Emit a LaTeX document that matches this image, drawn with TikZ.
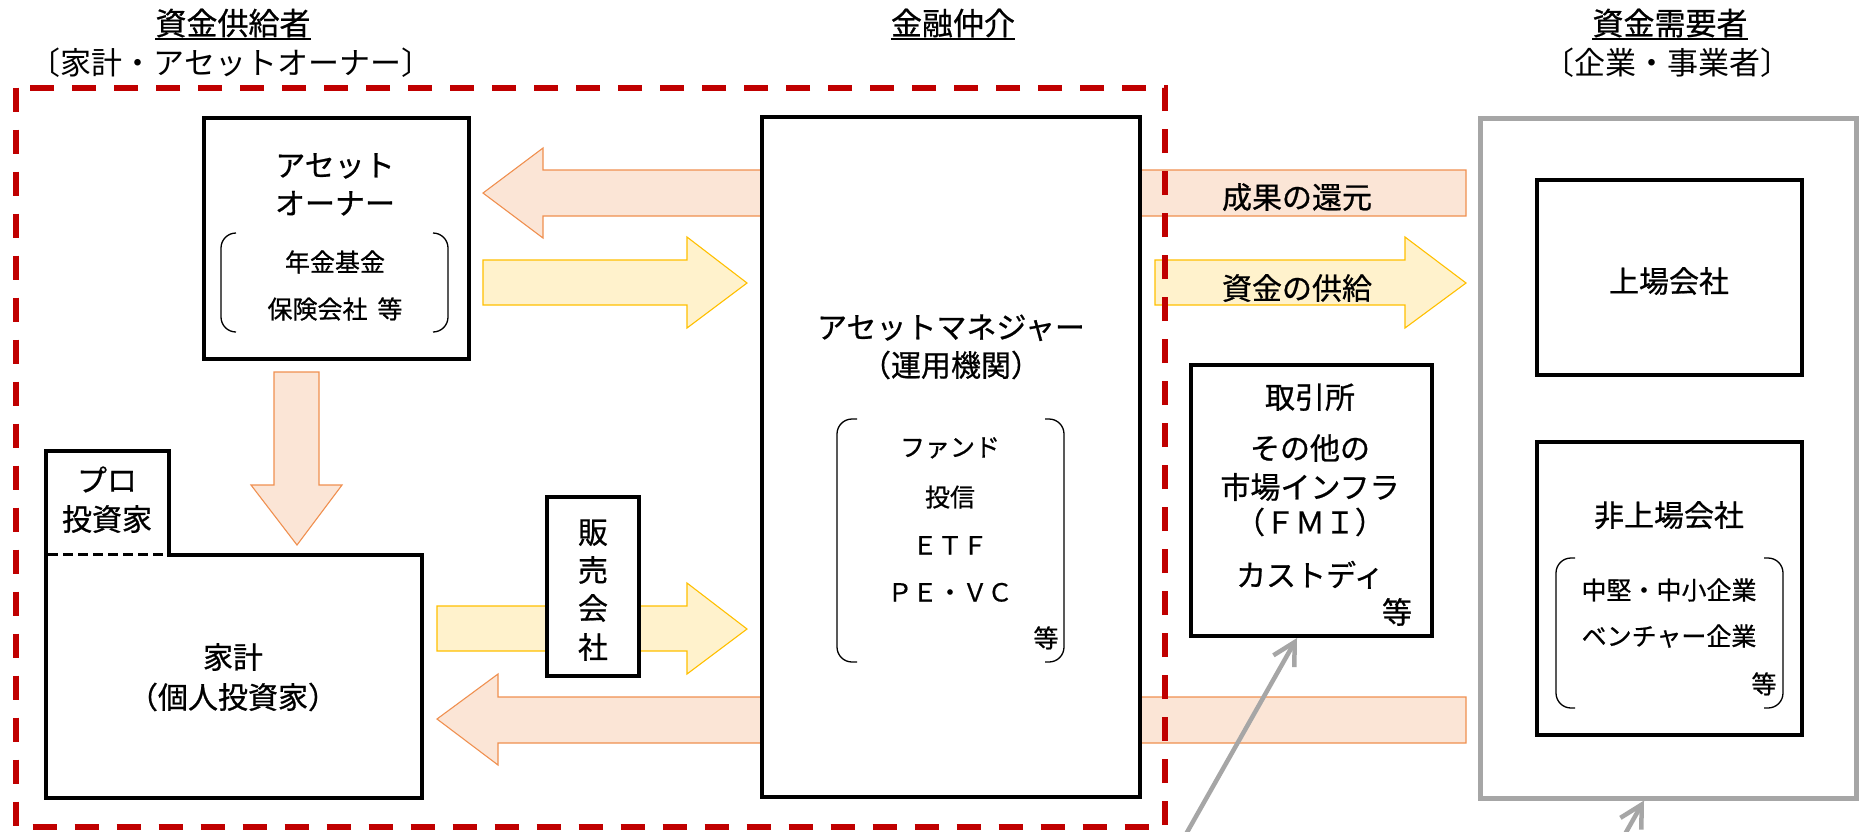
\documentclass[tikz,border=0pt]{standalone}
\usepackage{fontspec}
\setmainfont{Noto Sans CJK JP}[FakeBold=0.7]
\newfontfamily\subfont{Noto Sans CJK JP}
\usetikzlibrary{arrows.meta,calc}
\definecolor{redd}{HTML}{C00000}
\definecolor{orfill}{HTML}{FBE5D6}
\definecolor{ordraw}{HTML}{F09050}
\definecolor{yefill}{HTML}{FFF2CC}
\definecolor{yedraw}{HTML}{FFC000}
\definecolor{grayl}{HTML}{A6A6A6}
\tikzset{
 tT/.style={font=\fontsize{31}{36}\selectfont, inner sep=0pt, text height=27.3pt, text depth=3.7pt},
 tSub/.style={font=\subfont\fontsize{31}{36}\selectfont, inner sep=0pt, text height=27.3pt, text depth=3.7pt},
 tL/.style={font=\fontsize{30}{36}\selectfont, inner sep=0pt, text height=26.4pt, text depth=3.6pt},
 tS/.style={font=\fontsize{25}{30}\selectfont, inner sep=0pt, text height=22pt, text depth=3pt},
 bx/.style={draw=black, line width=4pt, fill=white, inner sep=0pt},
 oarrow/.style={fill=orfill, draw=ordraw, line width=1.1pt, line join=miter},
 yarrow/.style={fill=yefill, draw=yedraw, line width=1.1pt, line join=miter},
 brk/.style={draw=black, line width=1.3pt, rounded corners=15pt},
 garrow/.style={draw=grayl, line width=4.5pt, -{Straight Barb[length=22pt,width=24pt]}},
 uline/.style={line width=2.5pt},
}
\begin{document}
\begin{tikzpicture}[x=1pt,y=-1pt]
\useasboundingbox (0,0) rectangle (1866,831);
\clip (0,0) rectangle (1866,831);
\fill[white] (0,0) rectangle (1866,831);

% block arrows
\draw[oarrow] (483,193) -- (543,148) -- (543,170) -- (1466,170) -- (1466,216) -- (543,216) -- (543,238) -- cycle;
\draw[yarrow] (483,260) -- (687,260) -- (687,237) -- (747,283) -- (687,328) -- (687,305) -- (483,305) -- cycle;
\draw[yarrow] (1155,260) -- (1405,260) -- (1405,237) -- (1466,283) -- (1405,328) -- (1405,305) -- (1155,305) -- cycle;
\draw[yarrow] (437,606) -- (687,606) -- (687,583) -- (747,629) -- (687,674) -- (687,651) -- (437,651) -- cycle;
\draw[oarrow] (437,719) -- (498,674) -- (498,697) -- (1466,697) -- (1466,743) -- (498,743) -- (498,765) -- cycle;
\draw[oarrow] (274,372) -- (319,372) -- (319,485) -- (342,485) -- (297,545) -- (251,485) -- (274,485) -- cycle;

% boxes
\node[bx, minimum width=265pt, minimum height=241pt] (ao) at (336,238) {};
\node[bx, minimum width=378pt, minimum height=680pt] (am) at (951,457) {};
\node[bx, minimum width=92pt, minimum height=179pt] (sales) at (592.5,586.5) {};
\node[bx, minimum width=241pt, minimum height=271pt] (fmi) at (1311,500.5) {};
\node[draw=grayl, line width=5pt, fill=white, inner sep=0pt, minimum width=376pt, minimum height=680pt] (dem) at (1668,458) {};
\node[bx, minimum width=265pt, minimum height=195pt] (listed) at (1669.5,277.5) {};
\node[bx, minimum width=265pt, minimum height=293pt] (unlisted) at (1669.5,588.5) {};

% household / pro investor shape
\draw[line width=4pt, fill=white, line join=miter] (45.5,450.5) -- (169,450.5) -- (169,555) -- (422,555) -- (422,797.5) -- (45.5,797.5) -- cycle;
\draw[line width=3pt, dash pattern=on 10pt off 5pt] (48,554.5) -- (167,554.5);

% brackets
\draw[brk] (236,233) -- (221,233) -- (221,332) -- (236,332);
\draw[brk] (433,233) -- (448,233) -- (448,332) -- (433,332);
\draw[brk] (857,419) -- (837,419) -- (837,662) -- (857,662);
\draw[brk] (1045,419) -- (1064,419) -- (1064,662) -- (1045,662);
\draw[brk] (1575,558) -- (1556,558) -- (1556,708) -- (1575,708);
\draw[brk] (1764,558) -- (1783,558) -- (1783,708) -- (1764,708);

% red dashed frame
\draw[draw=redd, line width=6pt, dash pattern=on 24pt off 18pt] (16,87.5) rectangle (1164.5,827);

% gray connectors
\coordinate (g1s) at (1177,850);
\coordinate (g2s) at (1616,850);
\draw[garrow] (g1s) -- ([xshift=-14pt]fmi.south);
\draw[garrow] (g2s) -- ([xshift=-24pt]dem.south);

% titles
\node[tT] (t1) at (233,23) {資金供給者};
\draw[uline] ($(t1.base west)+(0,4)$) -- ($(t1.base east)+(0,4)$);
\node[tSub] (s1) at (231,63) {〔家計・アセットオーナー〕};
\node[tT] (t2) at (953,23) {金融仲介};
\draw[uline] ($(t2.base west)+(0,4)$) -- ($(t2.base east)+(0,4)$);
\node[tT] (t3) at (1670,23) {資金需要者};
\draw[uline] ($(t3.base west)+(0,4)$) -- ($(t3.base east)+(0,4)$);
\node[tSub] (s3) at (1667,63) {〔企業・事業者〕};

% asset owner
\node[tL] (ao1) at (335,165) {アセット};
\node[tL] (ao2) at (335,203) {オーナー};
\node[tS] (ao3) at (335,262) {年金基金};
\node[tS] (ao4) at (335,309) {保険会社\hspace{0.4em}等};

% pro / household
\node[tL] (pr1) at (107,480) {プロ};
\node[tL] (pr2) at (107,519) {投資家};
\node[tL] (hh1) at (233,657) {家計};
\node[tL] (hh2) at (233,697) {（個人投資家）};

% sales
\node[tL] (sa1) at (593,532) {販};
\node[tL] (sa2) at (593,570) {売};
\node[tL] (sa3) at (593,608) {会};
\node[tL] (sa4) at (593,647) {社};

% asset manager
\node[tL] (am1) at (951,327) {アセットマネジャー};
\node[tL] (am2) at (951,365) {（運用機関）};
\node[tS] (am3) at (950,447) {ファンド};
\node[tS] (am4) at (950,497) {投信};
\node[tS] (am5) at (950,545) {ＥＴＦ};
\node[tS] (am6) at (950,592) {ＰＥ・ＶＣ};
\node[tS] (am7) at (1046,638) {等};

% band labels
\node[tL] (b1) at (1297,197) {成果の還元};
\node[tL] (b2) at (1297,288) {資金の供給};

% FMI
\node[tL] (f1) at (1310,397) {取引所};
\node[tL] (f2) at (1310,448) {その他の};
\node[tL] (f3) at (1310,487) {市場インフラ};
\node[tL] (f4) at (1310,522) {（ＦＭＩ）};
\node[tL] (f5) at (1310,575) {カストディ};
\node[tL] (f6) at (1397,612) {等};

% demand side
\node[tL] (l1) at (1669,281) {上場会社};
\node[tL] (u1) at (1669,515) {非上場会社};
\node[tS] (u2) at (1669,590) {中堅・中小企業};
\node[tS] (u3) at (1669,636) {ベンチャー企業};
\node[tS] (u4) at (1764,684) {等};
\end{tikzpicture}
\end{document}
